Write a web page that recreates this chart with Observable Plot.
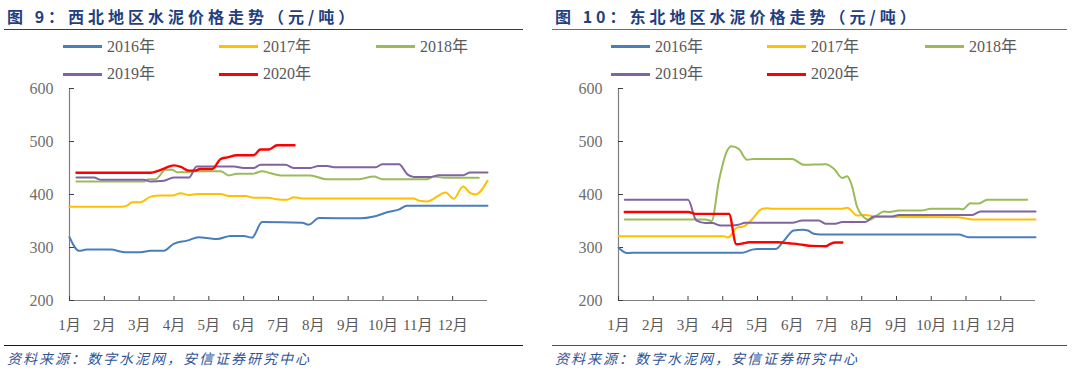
<!DOCTYPE html>
<html>
<head>
<meta charset="utf-8">
<script src="https://cdn.jsdelivr.net/npm/d3@7"></script>
<script src="https://cdn.jsdelivr.net/npm/@observablehq/plot@0.6"></script>
<style>
  html, body { margin: 0; padding: 0; background: #fff; }
  #root { position: relative; width: 1080px; height: 372px; overflow: hidden; background: #fff; }
  .abs { position: absolute; white-space: nowrap; }
  .title { font-family: "Noto Sans CJK SC", "Noto Sans", sans-serif; font-weight: 700; font-size: 16px; line-height: 16px; letter-spacing: 4px; color: #1F3F80; }
  .rule { height: 1px; }
  .caption { font-family: "Noto Sans CJK SC", sans-serif; font-style: italic; font-size: 14px; line-height: 14px; letter-spacing: 2px; color: #2F5597; }
  .lg-line { height: 3px; }
  .lg-text { font-family: "Liberation Serif", "Noto Sans CJK SC", serif; font-size: 16px; line-height: 16px; color: #595959; }
</style>
</head>
<body>
<div id="root"></div>
<script>
// ---------- data ----------
const monthLabels = ["1月","2月","3月","4月","5月","6月","7月","8月","9月","10月","11月","12月"];
const monthTicks = [0,1,2,3,4,5,6,7,8,9,10,11];
const yTicks = [200, 300, 400, 500, 600];
const seriesNames = ["2016年","2017年","2018年","2019年","2020年"];
const seriesColors = ["#4A7EBB","#FFC000","#9BBB59","#8064A2","#FF0000"];

// 西北 (Northwest): [month position, price]
const nw2016 = [[0,319.5],[0.27,294],[0.5,296],[1.18,296],[1.61,291],[2.04,291],[2.33,294],[2.71,294],[2.99,307],[3.38,313],[3.71,319.5],[3.95,318],[4.24,316],[4.62,321.5],[5.0,321.5],[5.24,318.5],[5.53,348],[6.68,346.5],[6.87,343],[7.16,355.5],[8.35,355],[8.74,358.5],[9.12,366.5],[9.45,371.5],[9.69,379],[12.0,379]];
const nw2017 = [[0,377],[1.51,377],[1.65,379],[1.8,385.5],[2.04,385.5],[2.33,396],[2.61,398],[2.95,398],[3.19,402.5],[3.43,399],[3.67,401],[4.34,401],[4.57,397],[5.05,397],[5.29,394],[5.68,394],[6.0,390.5],[6.25,390],[6.44,395],[6.68,392.5],[9.88,392.5],[10.05,388],[10.27,387],[10.8,404],[11.03,392],[11.3,415],[11.5,403],[11.66,400],[12.0,426]];
const nw2018 = [[0.2,424.5],[2.13,424.5],[2.27,429],[2.47,429],[2.76,446.5],[2.95,446.5],[3.09,442],[3.38,442],[3.57,444],[4.34,444],[4.57,436],[4.81,439],[5.25,439],[5.53,444],[5.77,440],[6.06,436],[6.92,436],[7.35,429],[8.31,429],[8.74,434],[8.98,429],[10.27,429],[10.46,434],[10.75,431.5],[11.75,431.5]];
const nw2019 = [[0.2,432],[0.7,432],[0.89,428],[2.13,428],[2.33,424.5],[2.71,426],[2.99,432],[3.43,432],[3.65,453],[4.72,453],[5.0,450],[5.29,450],[5.48,456],[6.2,456],[6.43,450],[6.92,450],[7.15,454],[7.4,454],[7.58,451.5],[8.79,451.5],[8.98,457],[9.46,457],[9.7,438],[9.89,433],[10.36,433],[10.6,436.5],[11.3,436.5],[11.5,441.5],[12.0,441.5]];
const nw2020 = [[0.2,441],[2.33,441],[2.6,446],[3.0,455],[3.2,452],[3.43,445],[3.6,445],[3.75,448],[4.1,448],[4.34,467],[4.53,470],[4.81,474],[5.29,474],[5.48,485],[5.72,485],[5.96,493],[6.46,493]];

// 东北 (Northeast)
const ne2016 = [[0,299.5],[0.25,289.5],[0.39,290],[3.56,290],[3.85,296],[3.99,297],[4.52,297],[4.75,312],[5.04,332],[5.3,333.5],[5.45,332],[5.62,326],[5.81,324.5],[9.79,324.5],[10.08,319.5],[12.0,319.5]];
const ne2017 = [[0,321],[3.03,321],[3.15,319],[3.42,338],[3.6,339.5],[3.8,350],[4.14,373],[4.28,374],[4.42,373],[6.44,373],[6.58,375],[6.87,360.5],[7.1,361.5],[7.4,358],[9.75,357],[10.18,353],[12.0,353]];
const ne2018 = [[0.18,353],[2.5,353],[2.68,350],[2.89,426],[3.13,483],[3.25,491],[3.46,486],[3.7,465.5],[3.89,467],[5.0,467],[5.33,456],[5.96,457],[6.2,448.5],[6.44,431],[6.58,434.5],[6.7,420],[6.87,376],[7.06,357],[7.22,352],[7.44,360.5],[7.63,368],[7.8,367],[8.07,370],[8.74,370],[8.98,373],[9.79,373],[9.9,372],[10.13,383.5],[10.37,383],[10.61,390],[11.76,390]];
const ne2019 = [[0.18,390],[2.0,390],[2.24,351],[2.5,346],[2.7,346],[2.94,341.5],[3.27,341.5],[3.45,343],[3.65,346.5],[5.0,346.5],[5.29,351],[5.76,351],[5.96,345],[6.24,345],[6.44,348],[7.1,348],[7.35,358.5],[7.87,358.5],[8.07,361.5],[10.18,361.5],[10.42,368],[12.0,368]];
const ne2020 = [[0.18,367],[2.0,367],[2.22,363.5],[3.18,363.5],[3.39,306],[3.6,308],[3.75,310],[4.61,310],[4.9,308],[5.2,306],[5.57,303],[5.96,302.5],[6.1,307],[6.24,309.5],[6.44,309.5]];

const titles = ["图 9：西北地区水泥价格走势（元/吨）", "图 10：东北地区水泥价格走势（元/吨）"];
const captionText = "资料来源：数字水泥网，安信证券研究中心";

// ---------- layout ----------
const root = document.getElementById("root");
function add(cls, text, style) {
  const d = document.createElement("div");
  d.className = "abs " + cls;
  if (text) d.textContent = text;
  Object.assign(d.style, style);
  root.appendChild(d);
  return d;
}

function buildTable(arrays) {
  const rows = [];
  arrays.forEach((arr, i) => arr.forEach(([m, v]) => rows.push({series: seriesNames[i], month: m, value: v})));
  return rows;
}

function panel(arrays, left, marginLeft, marginRight) {
  const data = buildTable(arrays);
  const axisFont = '"Liberation Serif", "Noto Sans CJK SC", serif';
  const chart = Plot.plot({
    width: 540,
    height: 265,
    marginTop: 8,
    marginBottom: 45,
    marginLeft,
    marginRight,
    style: {background: "transparent", overflow: "visible"},
    x: {domain: [0, 12]},
    y: {domain: [200, 600]},
    color: {domain: seriesNames, range: seriesColors},
    marks: [
      Plot.ruleX([0], {stroke: "#7f7f7f", strokeWidth: 1.2}),
      Plot.ruleY([200], {stroke: "#7f7f7f", strokeWidth: 1.2}),
      Plot.axisY({ticks: yTicks, tickSize: -5, tickPadding: 21, stroke: "#404040", fill: "#6f6f6f", fontSize: 16, fontFamily: axisFont, label: null}),
      Plot.axisX({ticks: monthTicks, tickFormat: i => monthLabels[i], tickSize: -4, tickPadding: 23, stroke: "#404040", fill: "#595959", fontSize: 15, fontFamily: axisFont, label: null}),
      ...seriesNames.map((name, i) =>
        Plot.line(data.filter(d => d.series === name), {
          x: "month", y: "value", stroke: "series",
          strokeWidth: i === 4 ? 2.4 : 2,
          curve: "monotone-x"
        }))
    ]
  });
  chart.style.position = "absolute";
  chart.style.left = left + "px";
  chart.style.top = "80px";
  root.appendChild(chart);
}

function legend(x0s) {
  const rowsY = [46.5, 74];
  const layout = [[0,0],[1,0],[2,0],[0,1],[1,1]];
  seriesNames.forEach((name, i) => {
    const [c, r] = layout[i];
    const x = x0s[c], y = rowsY[r];
    add("lg-line", "", {left: x + "px", top: (y - 1.5) + "px", width: "39px", background: seriesColors[i]});
    add("lg-text", name, {left: (x + 44) + "px", top: (y - 8) + "px"});
  });
}

// Left panel: 西北
add("title", titles[0], {left: "7px", top: "8px"});
add("rule", "", {left: "4px", top: "29px", width: "519px", background: "#3a3a3a"});
legend([63, 219, 376]);
panel([nw2016, nw2017, nw2018, nw2019, nw2020], 0, 69, 53);
add("rule", "", {left: "4px", top: "345px", width: "519px", background: "#1a1a1a"});
add("caption", captionText, {left: "7px", top: "351px"});

// Right panel: 东北
add("title", titles[1], {left: "555px", top: "8px"});
add("rule", "", {left: "552px", top: "29px", width: "515px", background: "#4472C4"});
legend([611, 767, 925]);
panel([ne2016, ne2017, ne2018, ne2019, ne2020], 540, 78, 45);
add("rule", "", {left: "552px", top: "345px", width: "515px", background: "#2F5597"});
add("caption", captionText, {left: "555px", top: "351px"});
</script>
</body>
</html>
